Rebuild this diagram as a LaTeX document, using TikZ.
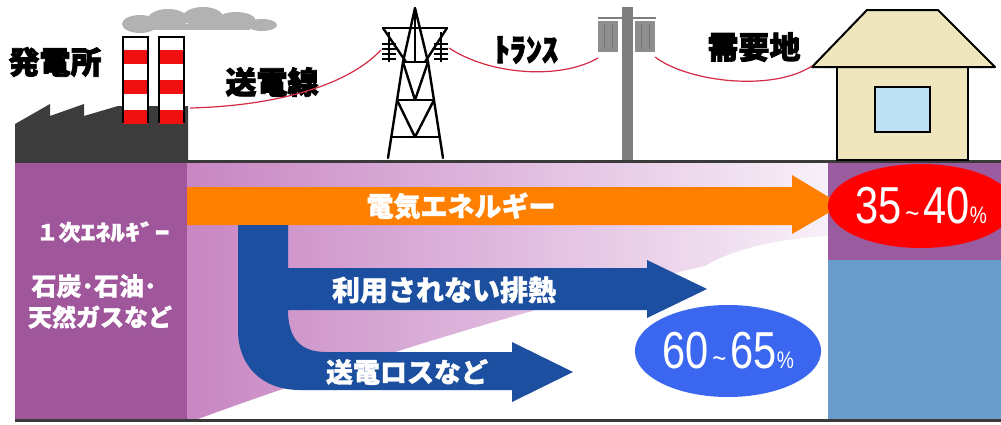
\documentclass[tikz,border=0pt]{standalone}
\usepackage{fontspec}
\setmainfont{Liberation Sans}
\newfontfamily\jp{Noto Sans CJK JP}[BoldFeatures={FakeBold=1.2}]
\newfontfamily\jpheavy{Noto Sans CJK JP}[BoldFeatures={FakeBold=2.6}]
\usetikzlibrary{shapes.geometric}

\definecolor{ground}{HTML}{3A3A3A}
\definecolor{factory}{HTML}{3C3C3C}
\definecolor{stackred}{HTML}{F01010}
\definecolor{smoke}{HTML}{B2B2B2}
\definecolor{wire}{HTML}{D42A44}
\definecolor{polegray}{HTML}{7E7E7E}
\definecolor{trafo}{HTML}{8E8E8E}
\definecolor{wall}{HTML}{EFE6BE}
\definecolor{glass}{HTML}{BDE0F2}
\definecolor{fuel}{HTML}{A0569A}
\definecolor{pinkL}{HTML}{C886C2}
\definecolor{pinkM}{HTML}{DFBADE}
\definecolor{pinkR}{HTML}{F8F0F8}
\definecolor{useband}{HTML}{9A5C9E}
\definecolor{lossband}{HTML}{6A9CCB}
\definecolor{elec}{HTML}{FF8000}
\definecolor{heat}{HTML}{1C4FA0}
\definecolor{lossoval}{HTML}{3A66F0}
\definecolor{gainoval}{HTML}{FF0000}

\tikzset{
  headline/.style={font=\jpheavy\bfseries\fontsize{31}{31}\selectfont, text=black, inner sep=0pt},
  flowlabel/.style={font=\jp\bfseries\fontsize{27}{27}\selectfont, text=white, inner sep=0pt},
  fuellabel/.style={font=\jp\bfseries\fontsize{24}{24}\selectfont, text=white, inner sep=0pt},
  oval/.style={ellipse, inner sep=0pt, text=white},
  towerline/.style={line width=2.4pt, black, line cap=round, line join=round},
  cable/.style={wire, line width=1.2pt},
}

\newcommand{\pct}[2]{\scalebox{0.8}[1]{\fontsize{52}{52}\selectfont #1\fontsize{30}{30}\selectfont\,\textasciitilde\,\fontsize{52}{52}\selectfont #2\fontsize{24}{24}\selectfont\%}}
\newcommand{\wide}[1]{\scalebox{1.35}[1]{#1}}

\begin{document}
\begin{tikzpicture}[x=1pt,y=-1pt]
\useasboundingbox (0,0) rectangle (1001,424);
\fill[white] (0,0) rectangle (1001,424);

% ---------- lower energy panel ----------
\fill[fuel] (15,162) rectangle (187,419);
\shade[left color=pinkL, right color=pinkR, middle color=pinkM]
  (187,162) -- (828,162) -- (828,236)
  .. controls (780,238) and (730,250) .. (705,266)
  .. controls (600,290) and (400,345) .. (198,419) -- (187,419) -- cycle;
\fill[useband] (828,162) rectangle (1001,260);
\fill[lossband] (828,260) rectangle (1001,419);
\draw[ground, line width=3pt] (15,161) -- (1001,161);
\draw[ground, line width=3pt] (15,420.5) -- (1001,420.5);

% electricity arrow
\fill[elec] (187,187) -- (792,187) -- (792,175) -- (842,205) -- (792,234)
  -- (792,225) -- (187,225) -- cycle;

% waste heat and transmission loss arrow
\fill[heat] (238,225) -- (288,225) -- (288,268) -- (647,268) -- (647,260)
  -- (707,289) -- (647,318) -- (647,310) -- (288,310)
  .. controls (288,338) and (300,352) .. (326,352)
  -- (512,352) -- (512,342) -- (573,372) -- (512,402) -- (512,390)
  -- (300,390) .. controls (262,390) and (238,366) .. (238,330) -- cycle;

\node[flowlabel] (elabel) at (461,206) {電気エネルギー};
\node[flowlabel, font=\jp\bfseries\fontsize{28}{28}\selectfont] (hlabel) at (444,290) {利用されない排熱};
\node[flowlabel] (tlabel) at (407,372) {送電ロスなど};

\node[fuellabel, font=\jp\bfseries\fontsize{22}{22}\selectfont] (primary) at (103,232) {１次\wide{ｴﾈﾙｷﾞｰ}};
\node[fuellabel, font=\jp\bfseries\fontsize{25}{25}\selectfont] (fuel1) at (94,286) {石炭･石油･};
\node[fuellabel] (fuel2) at (100,317) {天然ガスなど};

\node[oval, fill=lossoval, minimum width=174pt, minimum height=92pt] (loss) at (728,351) {\pct{60}{65}};
\node[oval, fill=gainoval, minimum width=166pt, minimum height=84pt] (gain) at (921,206) {\pct{35}{40}};

% ---------- power station ----------
\fill[smoke] (140,24) ellipse [x radius=18, y radius=9];
\fill[smoke] (168,19) ellipse [x radius=20, y radius=10];
\fill[smoke] (203,17) ellipse [x radius=20, y radius=10];
\fill[smoke] (236,21) ellipse [x radius=20, y radius=9];
\fill[smoke] (262,25) ellipse [x radius=15, y radius=6];
\fill[smoke] (150,30) rectangle (250,24);

\fill[factory] (15,161) -- (15,124) -- (50,104) -- (50,116) -- (84,104) -- (84,116)
  -- (118,106) -- (188,106) -- (188,161) -- cycle;

\foreach \sx in {123,159}{
  \fill[white] (\sx,37) rectangle (\sx+25,123);
  \foreach \sy in {50,80,110}{
    \fill[stackred] (\sx,\sy) rectangle (\sx+25,\sy+14);
  }
  \draw[black, line width=1.6pt] (\sx,123) -- (\sx,37) -- (\sx+25,37) -- (\sx+25,123);
}

\node[headline] (plant) at (55,62) {発電所};
\node[headline] (line) at (272,82) {送電線};

% ---------- transmission tower ----------
\draw[towerline] (388,158) -- (403,62) -- (415,8) -- (428,62) -- (443,158);
\draw[towerline] (415,8) -- (415,62);
\draw[towerline] (383,28) -- (447,28);
\draw[towerline] (383,28) -- (406,62);
\draw[towerline] (447,28) -- (425,62);
\draw[towerline] (403,62) -- (428,62);
\draw[towerline] (397,100) -- (434,100);
\draw[towerline] (391,137) -- (440,137);
\draw[towerline] (403,62) -- (415,100) -- (428,62);
\draw[towerline] (397,100) -- (415,137) -- (434,100);
\foreach \ix in {389,441}{
  \draw[black, line width=1.4pt] (\ix,32) -- (\ix,62);
  \foreach \iy in {44,49,54,59}{
    \draw[black, line width=1.3pt] (\ix-7,\iy) -- (\ix+7,\iy);
  }
}
\coordinate (insL) at (381,50);
\coordinate (insR) at (449,48);

% ---------- distribution pole ----------
\fill[polegray] (622,7) rectangle (633,160);
\draw[polegray, line width=1.5pt] (598,18) -- (656,18);
\foreach \tx in {598,635}{
  \fill[trafo] (\tx,21) rectangle (\tx+20,52);
  \draw[black!55, line width=1pt] (\tx+6,24) -- (\tx+6,49);
  \draw[black!55, line width=1pt] (\tx+14,24) -- (\tx+14,49);
}
\node[headline, font=\jpheavy\bfseries\fontsize{32}{32}\selectfont] (trans) at (526,50) {ﾄﾗﾝｽ};
\coordinate (trL) at (598,58);
\coordinate (trR) at (655,57);

% ---------- consumer house ----------
\draw[black, line width=2pt, fill=wall] (837,67) rectangle (968,160);
\draw[black, line width=2pt, fill=wall, line join=round] (867,10) -- (938,10) -- (995,67) -- (812,67) -- cycle;
\draw[black, line width=2pt, fill=glass] (875,87) rectangle (930,132);
\coordinate (eave) at (812,66);
\node[headline] (demand) at (754,47) {需要地};

% ---------- cables ----------
\coordinate (plantTop) at (190,108);
\draw[cable] (plantTop) .. controls (270,106) and (345,88) .. (insL);
\draw[cable] (insR) .. controls (490,75) and (560,80) .. (trL);
\draw[cable] (trR) .. controls (688,82) and (772,92) .. (eave);
\end{tikzpicture}
\end{document}
